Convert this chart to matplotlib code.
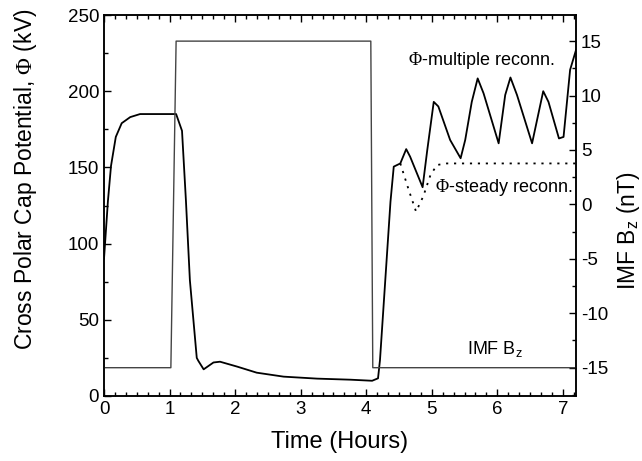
import numpy as np
import matplotlib.pyplot as plt
from matplotlib.ticker import MultipleLocator

plt.rcParams['font.family'] = ['Liberation Sans', 'DejaVu Sans']
plt.rcParams['axes.unicode_minus'] = False
plt.rcParams['mathtext.fontset'] = 'custom'
plt.rcParams['mathtext.rm'] = 'Liberation Serif'
plt.rcParams['mathtext.sf'] = 'Liberation Sans'

# cross polar cap potential (kV), common part + multiple reconnection
t_phi = [0, 0.06, 0.107, 0.18, 0.27, 0.40, 0.55, 1.10, 1.19, 1.25, 1.31, 1.415,
         1.44, 1.52, 1.67, 1.77, 2.03, 2.33, 2.74, 3.25, 3.76, 4.09, 4.18, 4.21,
         4.37, 4.42, 4.52, 4.61, 4.67, 4.86, 4.93, 5.03, 5.10, 5.28, 5.44, 5.51,
         5.61, 5.70, 5.79, 6.02, 6.12, 6.20, 6.30, 6.53, 6.70, 6.78, 6.94, 7.01,
         7.11, 7.20]
phi_multi = [90, 128, 151, 170, 179, 183, 185, 185, 174, 128, 76, 25,
             23, 17.5, 22, 22.5, 19.3, 15.3, 12.7, 11.4, 10.7, 10.0, 11.6, 23.6,
             127.5, 150.5, 152.6, 162, 157, 137, 161, 193, 190, 168, 156, 168,
             193, 208.4, 198.6, 165.8, 197.5, 209, 197.5, 165.8, 200, 193, 169, 170,
             214, 227]

# steady reconnection branch
t_steady = [4.52, 4.65, 4.76, 4.87, 4.98, 5.08, 5.23, 7.20]
phi_steady = [152.6, 135, 121, 131, 145, 151.6, 152.6, 152.6]

# IMF Bz (nT)
t_bz = [0, 1.02, 1.10, 4.07, 4.10, 7.20]
bz = [-15, -15, 15, 15, -15, -15]

fig = plt.figure(figsize=(6.42, 4.61), dpi=100)
ax = fig.add_axes([104/642, 1 - 396/461, 472/642, 381/461])
ax2 = ax.twinx()

ax2.plot(t_bz, bz, color='#444444', lw=1.0)
ax.plot(t_phi, phi_multi, color='black', lw=1.3)
ax.plot(t_steady, phi_steady, color='black', lw=1.3, linestyle=(0, (1.2, 3.2)))

ax.set_xlim(0, 7.2)
ax.set_ylim(0, 250)
ax2.set_ylim(-17.6, 17.4)

ax.xaxis.set_major_locator(MultipleLocator(1))
ax.xaxis.set_minor_locator(MultipleLocator(1/6))
ax.yaxis.set_major_locator(MultipleLocator(50))
ax.yaxis.set_minor_locator(MultipleLocator(25))
ax2.yaxis.set_major_locator(MultipleLocator(5))
ax2.yaxis.set_minor_locator(MultipleLocator(2.5))

ax.tick_params(which='both', direction='in', top=True, right=False, labelsize=13.5, width=1)
ax.tick_params(which='major', length=5)
ax.tick_params(which='minor', length=3)
ax2.tick_params(which='both', direction='in', labelsize=13.5, width=1)
ax2.tick_params(which='major', length=5)
ax2.tick_params(which='minor', length=3)
for a in (ax, ax2):
    for s in a.spines.values():
        s.set_linewidth(1.1)

ax.text(4.63, 217, r'$\Phi$-multiple reconn.', fontsize=13, va='baseline')
ax.text(5.05, 134, r'$\Phi$-steady reconn.', fontsize=13, va='baseline')
ax.text(5.54, 27.5, r'IMF B$_{\mathsf{z}}$', fontsize=13, va='baseline')

fig.text(0.5296, 0.041, 'Time (Hours)', ha='center', va='center', fontsize=17)
fig.text(0.039, 0.61, r'Cross Polar Cap Potential, $\Phi$ (kV)', ha='center', va='center',
         rotation=90, fontsize=16.5)
fig.text(0.979, 0.50, r'IMF B$_{\mathsf{z}}$ (nT)', ha='center', va='center',
         rotation=90, fontsize=16.5)

fig.savefig('out.png', dpi=100)
